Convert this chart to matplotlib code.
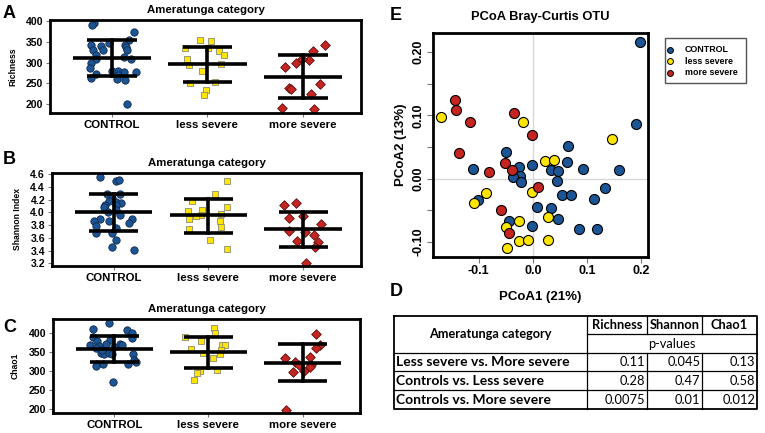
"""Alpha diversity (A-C), PCoA (E) and p-value table (D) for the Ameratunga categories."""
import matplotlib
matplotlib.use("Agg")
import matplotlib.pyplot as plt
from matplotlib.patches import Rectangle
import numpy as np

plt.rcParams["font.family"] = ["Liberation Sans", "DejaVu Sans"]
plt.rcParams["font.weight"] = "bold"

GROUPS = ["CONTROL", "less severe", "more severe"]
FILL = ["#1c5595", "#ffe500", "#c62420"]
EDGE = ["#10284a", "#8c8c70", "#5a1010"]
MARK = ["o", "s", "D"]
MSIZE = [28, 24, 24]

# ---- panel A : richness (values, horizontal jitter) ----
RICH_CTRL = [394, 389, 373, 355, 347, 343, 343, 339, 338, 331, 330, 330, 318, 314,
             309, 308, 298, 286, 278, 280, 279, 278, 273, 270, 262, 260, 257, 200]
RICH_CTRL_DX = [-0.19, -0.21, 0.23, 0.18, -0.03, -0.22, 0.14, -0.12, 0.15, -0.09, -0.20,
                0.16, -0.17, 0.13, 0.20, -0.17, -0.22, -0.23, 0.25, 0.0, 0.06, 0.13,
                -0.17, 0.06, -0.22, 0.05, 0.14, 0.16]
RICH_LESS = [353, 351, 335, 336, 328, 318, 308, 293, 297, 280, 253, 250, 234, 221]
RICH_LESS_DX = [-0.08, 0.04, -0.23, 0.01, 0.12, 0.17, -0.21, -0.19, 0.14, -0.06, 0.08,
                -0.18, -0.01, -0.04]
RICH_MORE = [342, 328, 306, 308, 298, 290, 249, 238, 236, 224, 192, 188]
RICH_MORE_DX = [0.23, 0.11, 0.07, -0.01, -0.07, -0.19, 0.18, -0.14, -0.12, 0.09, -0.22, 0.12]
RICH_STATS = [(310, 355, 268), (296, 338, 254), (265, 318, 214)]  # mean, +sd, -sd

# ---- panel B : Shannon ----
SHAN_CTRL = [4.56, 4.49, 4.51, 4.28, 4.29, 4.23, 4.17, 4.16, 4.11, 4.09, 4.15, 4.11, 4.04,
             4.01, 3.95, 3.90, 3.89, 3.86, 3.87, 3.83, 3.79, 3.75, 3.67, 3.67, 3.57, 3.46, 3.41]
SHAN_CTRL_DX = [-0.14, 0.02, 0.06, -0.07, 0.07, -0.02, -0.05, 0.03, -0.09, -0.10, 0.08, 0.02,
                0.02, -0.06, 0.07, 0.19, -0.14, -0.21, -0.05, 0.16, -0.19, 0.03, -0.19,
                -0.02, 0.02, -0.02, 0.22]
SHAN_LESS = [4.49, 4.28, 4.18, 4.09, 4.04, 4.02, 3.97, 3.96, 3.94, 3.90, 3.86, 3.77, 3.74,
             3.56, 3.43]
SHAN_LESS_DX = [0.20, 0.07, -0.17, 0.20, -0.07, -0.22, 0.13, -0.08, -0.13, -0.20, 0.12,
                0.13, -0.20, 0.02, 0.20]
SHAN_MORE = [4.11, 4.14, 3.91, 3.94, 3.81, 3.70, 3.69, 3.65, 3.55, 3.54, 3.45, 3.21]
SHAN_MORE_DX = [-0.20, -0.08, -0.15, 0.0, 0.19, -0.15, 0.02, 0.11, -0.07, 0.16, 0.12, 0.03]
SHAN_STATS = [(4.0, 4.29, 3.71), (3.95, 4.21, 3.68), (3.73, 4.0, 3.45)]

# ---- panel C : Chao1 ----
CHAO_CTRL = [426, 410, 409, 389, 400, 388, 380, 382, 369, 371, 372, 369, 367, 360,
             363, 347, 345, 348, 344, 344, 355, 330, 323, 320, 318, 318, 314, 272]
CHAO_CTRL_DX = [-0.06, -0.23, 0.14, -0.22, 0.19, 0.19, -0.18, -0.05, -0.26, -0.09, 0.06,
                0.08, -0.16, -0.19, 0.0, -0.14, -0.11, -0.06, -0.02, 0.20, -0.13, 0.21,
                0.23, -0.18, -0.12, 0.15, -0.19, -0.01]
CHAO_LESS = [413, 401, 390, 380, 369, 368, 357, 356, 348, 346, 335, 301, 303, 294, 277]
CHAO_LESS_DX = [0.06, 0.07, -0.25, -0.08, 0.14, 0.18, -0.18, 0.13, -0.06, 0.12, 0.05,
                -0.09, 0.09, -0.12, -0.15]
CHAO_MORE = [397, 368, 362, 337, 334, 323, 317, 316, 310, 300, 297, 199]
CHAO_MORE_DX = [0.14, 0.19, 0.14, 0.08, -0.19, -0.08, -0.04, 0.09, 0.08, 0.02, -0.10, -0.18]
CHAO_STATS = [(358, 392, 324), (350, 390, 309), (322, 371, 273)]

# ---- panel E : PCoA coordinates ----
PC_CTRL_X = [0.197, 0.189, 0.064, 0.062, -0.050, -0.001, -0.026, -0.111, 0.034, 0.047,
             0.092, 0.158, -0.023, -0.037, -0.022, 0.045, 0.132, 0.053, 0.070, -0.102,
             0.112, 0.008, 0.033, 0.047, -0.044, -0.002, 0.085, 0.118]
PC_CTRL_Y = [0.216, 0.086, 0.052, 0.027, 0.042, 0.021, 0.018, 0.015, 0.013, 0.012,
             0.015, 0.013, 0.005, 0.002, -0.005, -0.004, -0.014, -0.026, -0.025, -0.034,
             -0.032, -0.044, -0.046, -0.063, -0.067, -0.075, -0.080, -0.080]
PC_LESS_X = [-0.169, -0.018, 0.145, 0.023, 0.039, -0.087, -0.001, -0.108, -0.050, -0.026,
             0.028, -0.025, -0.009, 0.027, -0.047]
PC_LESS_Y = [0.098, 0.089, 0.063, 0.028, 0.030, -0.022, -0.021, -0.039, -0.076, -0.067,
             -0.061, -0.098, -0.097, -0.097, -0.110]
PC_MORE_X = [-0.143, -0.141, -0.116, -0.034, -0.002, -0.137, -0.051, -0.081, -0.039,
             0.009, -0.059, -0.044]
PC_MORE_Y = [0.125, 0.109, 0.090, 0.104, 0.069, 0.040, 0.025, 0.011, 0.013, -0.013,
             -0.050, -0.086]

# ---- panel D : p-value table ----
TAB_COLS = ["Richness", "Shannon", "Chao1"]
TAB_ROWS = ["Less severe vs. More severe", "Controls vs. Less severe",
            "Controls vs. More severe"]
TAB_RICH = ["0.11", "0.28", "0.0075"]
TAB_SHAN = ["0.045", "0.47", "0.01"]
TAB_CHAO = ["0.13", "0.58", "0.012"]

W, H = 765, 433
fig = plt.figure(figsize=(W / 100, H / 100), dpi=100)


def px_axes(left, top, right, bottom):
    return fig.add_axes([left / W, 1 - bottom / H, (right - left) / W, (bottom - top) / H])


def style_box(ax, lw=2.0):
    for sp in ax.spines.values():
        sp.set_linewidth(lw)
        sp.set_color("black")
    ax.tick_params(direction="out", length=3, width=0.8, color="#777777", pad=2)


def dot_panel(ax, vals, dxs, stats, ylim, yticks, ylabel, ytl=None):
    for i in range(3):
        ax.scatter(np.array(dxs[i]) + i + 1, vals[i], s=MSIZE[i], marker=MARK[i],
                   c=FILL[i], edgecolors=EDGE[i], linewidths=0.6, zorder=2)
        m, hi, lo = stats[i]
        c = i + 1
        ax.plot([c - 0.41, c + 0.41], [m, m], color="black", lw=2.6, zorder=3,
                solid_capstyle="butt")
        for v in (hi, lo):
            ax.plot([c - 0.26, c + 0.26], [v, v], color="black", lw=2.6, zorder=3,
                    solid_capstyle="butt")
        ax.plot([c, c], [lo, hi], color="black", lw=2.6, zorder=3)
    ax.set_xlim(0.35, 3.61)
    ax.set_ylim(*ylim)
    ax.set_xticks([1, 2, 3])
    ax.set_xticklabels(GROUPS, fontsize=8.2, fontweight="bold")
    ax.set_yticks(yticks)
    ax.set_yticklabels(ytl if ytl else [str(t) for t in yticks], fontsize=7.6,
                       fontweight="bold")
    ax.set_ylabel(ylabel, fontsize=6.2, fontweight="bold", labelpad=6)
    ax.set_title("Ameratunga category", fontsize=8.2, fontweight="bold", pad=5)
    style_box(ax)


axA = px_axes(50, 20, 361, 113)
dot_panel(axA, [RICH_CTRL, RICH_LESS, RICH_MORE],
          [RICH_CTRL_DX, RICH_LESS_DX, RICH_MORE_DX], RICH_STATS,
          (179, 402), [200, 250, 300, 350, 400], "Richness")

axB = px_axes(52, 173, 361, 266)
shan_ticks = [3.2, 3.4, 3.6, 3.8, 4.0, 4.2, 4.4, 4.6]
dot_panel(axB, [SHAN_CTRL, SHAN_LESS, SHAN_MORE],
          [SHAN_CTRL_DX, SHAN_LESS_DX, SHAN_MORE_DX], SHAN_STATS,
          (3.157, 4.616), shan_ticks, "Shannon Index",
          ytl=[f"{t:.1f}" for t in shan_ticks])

axC = px_axes(53, 319, 360, 413)
dot_panel(axC, [CHAO_CTRL, CHAO_LESS, CHAO_MORE],
          [CHAO_CTRL_DX, CHAO_LESS_DX, CHAO_MORE_DX], CHAO_STATS,
          (190, 437), [200, 250, 300, 350, 400], "Chao1")

# ---- PCoA ----
axE = px_axes(433, 33, 648, 257)
axE.axhline(0, color="#d9d9d9", lw=1.0, zorder=0)
axE.axvline(0, color="#d9d9d9", lw=1.0, zorder=0)
for xs, ys, i in [(PC_CTRL_X, PC_CTRL_Y, 0), (PC_LESS_X, PC_LESS_Y, 1),
                  (PC_MORE_X, PC_MORE_Y, 2)]:
    axE.scatter(xs, ys, s=52, c=FILL[i], edgecolors="black", linewidths=0.8, zorder=2)
axE.set_xlim(-0.184, 0.212)
axE.set_ylim(-0.1236, 0.230)
axE.set_xticks([-0.1, 0.0, 0.1, 0.2])
axE.set_xticklabels(["-0.1", "0.0", "0.1", "0.2"], fontsize=9, fontweight="bold")
yt = [-0.10, -0.05, 0.0, 0.05, 0.10, 0.15, 0.20]
axE.set_yticks(yt)
axE.set_yticklabels(["-0.10", "", "0.00", "", "0.10", "", "0.20"], fontsize=9,
                    fontweight="bold", rotation=90, va="center")
axE.set_xlabel("PCoA1 (21%)", fontsize=9.5, fontweight="bold", labelpad=10)
axE.set_ylabel("PCoA2 (13%)", fontsize=9.5, fontweight="bold", labelpad=4)
axE.set_title("PCoA Bray-Curtis OTU", fontsize=9.3, fontweight="bold", pad=9)
style_box(axE)
axE.tick_params(length=4)

# ---- overlay axes in pixel coordinates: legend box, table, letters ----
tax = fig.add_axes([0, 0, 1, 1])
tax.set_xlim(0, W)
tax.set_ylim(H, 0)
tax.axis("off")

tax.add_patch(Rectangle((665.5, 37.5), 81, 45, fill=False, edgecolor="#555555", lw=1.0))
for i, name in enumerate(GROUPS):
    yl = 49.5 + 11.5 * i
    tax.scatter([670.5], [yl], s=18, c=FILL[i], edgecolors="black", linewidths=0.7)
    tax.text(685, yl, name, ha="left", va="center", fontsize=6.4, fontweight="bold")

tx = [394, 587, 647, 702, 757]
ty = [315.5, 334, 352.7, 371.3, 390, 408.7]
tfont = ["Lato", "DejaVu Sans"]
lw = 0.9
tax.plot([tx[0], tx[-1], tx[-1], tx[0], tx[0]], [ty[0], ty[0], ty[-1], ty[-1], ty[0]],
         color="black", lw=1.3)
for y in ty[2:-1]:
    tax.plot([tx[0], tx[-1]], [y, y], color="black", lw=lw)
tax.plot([tx[1], tx[-1]], [ty[1], ty[1]], color="black", lw=lw)
tax.plot([tx[1], tx[1]], [ty[0], ty[-1]], color="black", lw=lw)
for x in tx[2:4]:
    tax.plot([x, x], [ty[0], ty[1]], color="black", lw=lw)
    tax.plot([x, x], [ty[2], ty[-1]], color="black", lw=lw)

tax.text((tx[0] + tx[1]) / 2, (ty[0] + ty[2]) / 2, "Ameratunga category", ha="center",
         va="center", fontsize=9.2, fontweight="bold", family=tfont)
for j, name in enumerate(TAB_COLS):
    tax.text((tx[j + 1] + tx[j + 2]) / 2, (ty[0] + ty[1]) / 2 + 0.5, name, ha="center",
             va="center", fontsize=9.3, fontweight="bold", family=tfont)
tax.text((tx[1] + tx[-1]) / 2, (ty[1] + ty[2]) / 2 + 0.5, "p-values", ha="center",
         va="center", fontsize=9.3, fontweight="normal", family=tfont)
for r, name in enumerate(TAB_ROWS):
    yc = (ty[r + 2] + ty[r + 3]) / 2 + 0.5
    tax.text(tx[0] + 2.5, yc, name, ha="left", va="center", fontsize=10,
             fontweight="bold", family=tfont)
    for j, col in enumerate([TAB_RICH, TAB_SHAN, TAB_CHAO]):
        tax.text(tx[j + 2] - 1.5, yc, col[r], ha="right", va="center", fontsize=9.3,
                 fontweight="normal", family=tfont)

# panel letters
for letter, x, y in [("A", 3, 13), ("B", 3, 160), ("C", 3, 328), ("E", 390, 15),
                     ("D", 390, 291)]:
    fig.text(x / W, 1 - y / H, letter, fontsize=13, fontweight="bold", va="center",
             ha="left")

fig.savefig("out.png", dpi=100)
